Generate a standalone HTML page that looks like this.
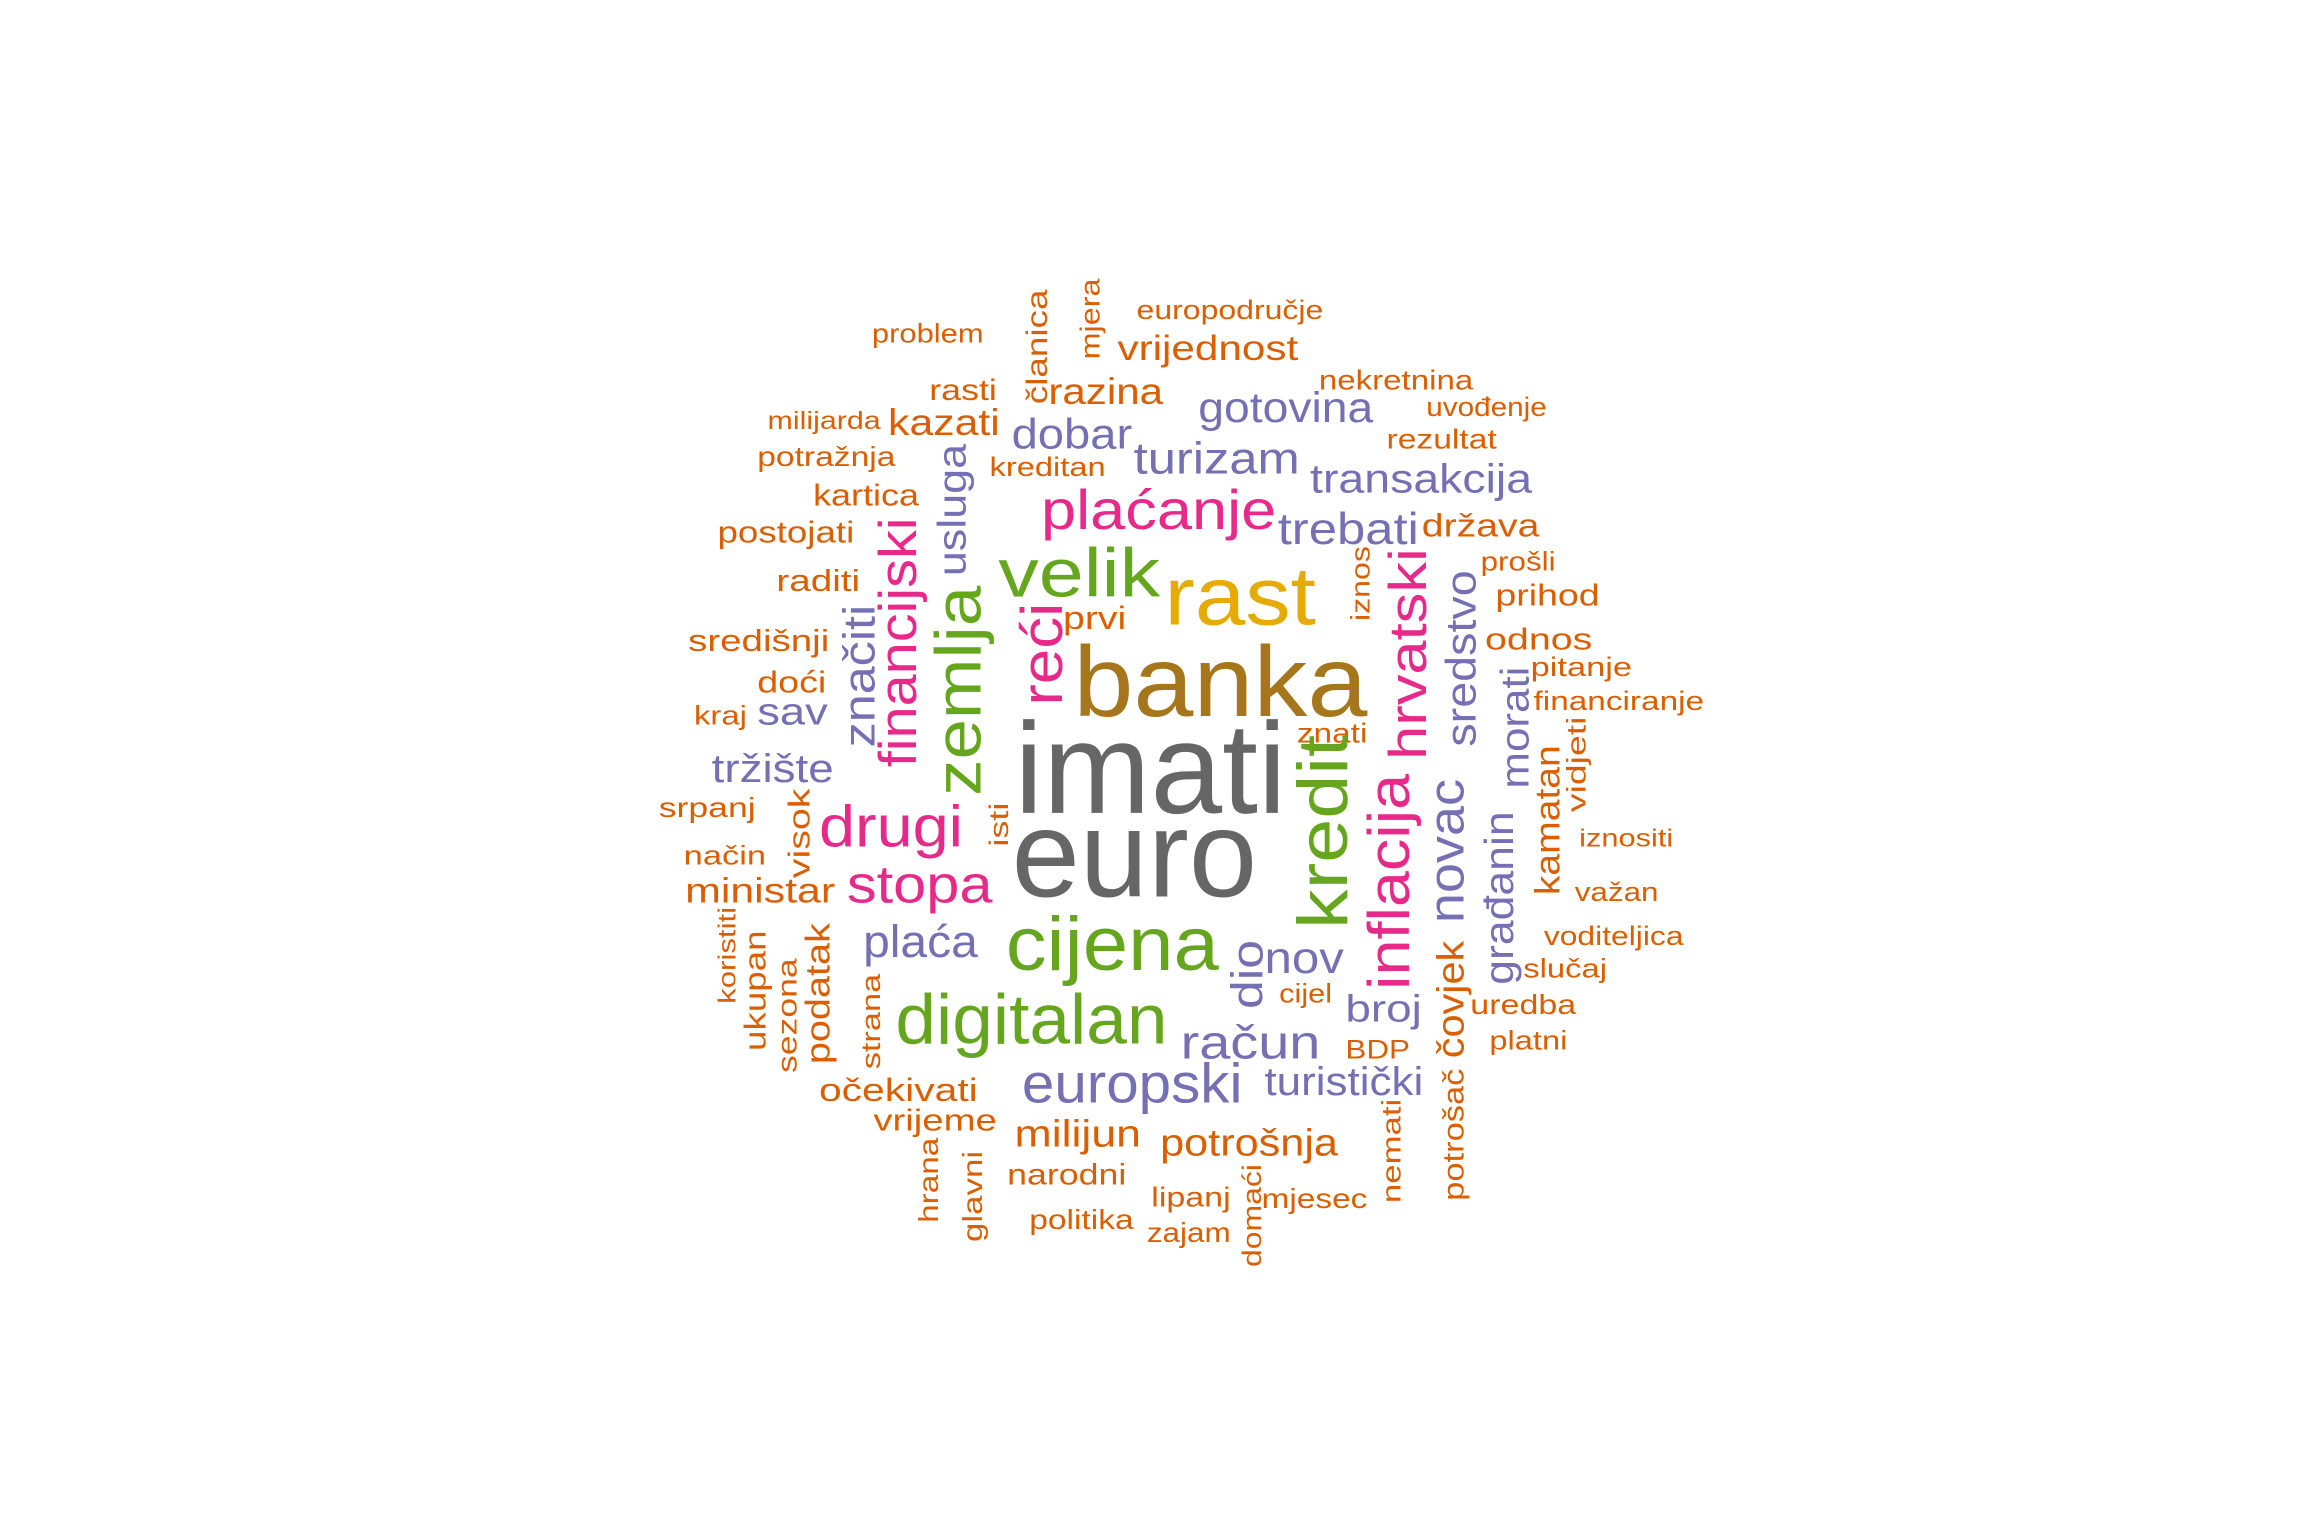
<!DOCTYPE html>
<html><head><meta charset="utf-8"><style>
html,body{margin:0;padding:0;background:#fff;}
svg{display:block;}
text{font-family:"Liberation Sans",Arial,sans-serif;}
</style></head>
<body>
<svg id="cloud" xmlns="http://www.w3.org/2000/svg" width="2304" height="1536" viewBox="0 0 1567 1045" preserveAspectRatio="none">
<rect width="1567" height="1045" fill="#fff"/>
</svg>
<script>
const words = ["problem","europodručje","vrijednost","nekretnina","uvođenje","rasti","razina","milijarda","kazati","gotovina","dobar","rezultat","potražnja","kreditan","turizam","transakcija","kartica","plaćanje","trebati","država","postojati","prošli","velik","rast","raditi","prihod","prvi","središnji","odnos","banka","pitanje","doći","sav","kraj","financiranje","znati","imati","tržište","srpanj","drugi","iznositi","način","euro","stopa","ministar","važan","cijena","voditeljica","plaća","nov","slučaj","cijel","broj","uredba","digitalan","račun","BDP","platni","europski","turistički","očekivati","vrijeme","milijun","potrošnja","narodni","lipanj","mjesec","politika","zajam",
"članica","mjera","usluga","financijski","zemlja","značiti","reći","iznos","hrvatski","sredstvo","morati","vidjeti","kamatan","kredit","isti","visok","inflacija","novac","građanin","dio","koristiti","ukupan","sezona","podatak","strana","čovjek","potrošač","nemati","hrana","glavni","domaći"];
const sizes = [18,18,24,19,18,20,25,17,25,29,29,19,19,18,30,28,21,38,30,22,21,18,47,56,21,21,22,21,21,68,18,21,26,18,18,19,88,27,19,40,17,18,84,36,24,18,52,18,31,30,18,18,26,19,48,32,18,18,38,27,22,21,26,26,20,19,19,19,19,
20,19,27,36,44,30,40,18,36,29,27,18,24,48,18,21,40,34,28,30,17,21,19,23,18,26,20,18,19,19,18];
const colorIdx = [1,1,1,1,1,1,1,1,1,2,2,1,1,1,2,2,1,3,2,1,1,1,4,5,1,1,1,1,1,6,1,1,2,1,1,1,7,2,1,3,1,1,7,3,1,1,4,1,2,2,1,1,2,1,4,2,1,1,2,2,1,1,1,1,1,1,1,1,1,
1,1,2,3,4,2,3,1,3,2,2,1,1,4,1,1,3,2,2,2,1,1,1,1,1,1,1,1,1,1,1];
const palette = ["#1B9E77","#D95F02","#7570B3","#E7298A","#66A61E","#E6AB02","#A6761D","#666666"];
// layout: horizontal [left, baseline, width]; vertical [cx, cy, length]
const layout = [[593,233,76],[773,217,127],[760,245,123],[897,265,105],[970,283,82],[632,272,46],[713,275,78],[522,292,77],[604,296,76],[815,287,119],[688,305,82],[943,305,75],[515,317,94],[673,324,79],[771,322,113],[891,335,151],[553,344,72],[708,360,160],[869,370,96],[967,365,80],[488,369,93],[1007,388,51],[679,406,110],[792,425,103],[528,402,57],[1017,412,71],[723,428,43],[468,443,96],[1010,442,73],[730,487,200],[1041,460,69],[515,471,47],[515,493,48],[472,493,36],[1043,483,116],[882,505,48],[690,553,185],[484,532,83],[448,556,66],[557,576,98],[1074,576,64],[465,588,56],[688,610,167],[576,614,99],[466,614,102],[1071,613,57],[684,660,145],[1050,643,95],[587,651,78],[860,662,54],[1036,665,57],[870,682,36],[915,695,52],[1000,690,72],[609,710,185],[803,720,95],[915,720,44],[1013,714,53],[695,750,150],[860,745,108],[557,749,108],[594,769,84],[690,780,86],[789,786,121],[685,806,81],[783,821,54],[858,822,72],[700,836,71],[780,845,57],
[705,236,78],[741,217,55],[647,347,90],[610,437,170],[651,470,143],[584,460,97],[708,445,70],[925,397,51],[957,445,144],[993,448,120],[1030,495,83],[1072,520,65],[1052,558,102],[899,566,132],[679,561,30],[543,567,61],[944,600,147],[983,579,98],[1019,611,118],[848,663,47],[494,650,66],[513,674,82],[535,691,78],[556,676,96],[592,695,65],[986,680,80],[988,772,90],[946,783,71],[631,803,58],[661,814,62],[851,827,70]];
const nHoriz = 69;
const svg = document.getElementById('cloud');
const NS = "http://www.w3.org/2000/svg";
for (let i = 0; i < words.length; i++) {
  const t = document.createElementNS(NS, 'text');
  const L = layout[i];
  t.textContent = words[i];
  t.setAttribute('font-size', sizes[i]);
  t.setAttribute('fill', palette[colorIdx[i]]);
  t.setAttribute('textLength', L[2]);
  t.setAttribute('lengthAdjust', 'spacingAndGlyphs');
  if (i < nHoriz) {
    t.setAttribute('x', L[0]);
    t.setAttribute('y', L[1]);
  } else {
    t.setAttribute('text-anchor', 'middle');
    t.setAttribute('x', 0);
    t.setAttribute('y', sizes[i] * 0.36);
    t.setAttribute('transform', 'translate(' + L[0] + ',' + L[1] + ') rotate(-90)');
  }
  
  
  svg.appendChild(t);
}
</script>
</body></html>
